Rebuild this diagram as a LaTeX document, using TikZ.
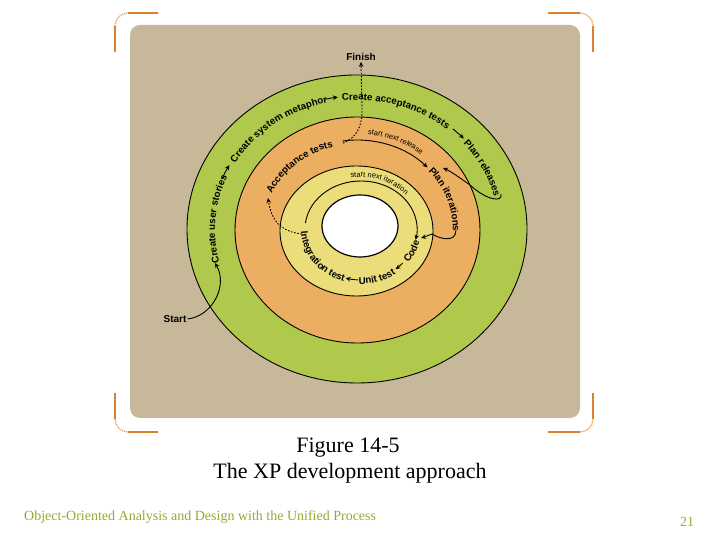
\documentclass[tikz,border=0pt]{standalone}
\usepackage{fontspec}
\setmainfont{Liberation Serif}
\setsansfont{Liberation Sans}
\usetikzlibrary{decorations.text,arrows.meta}
\definecolor{bg}{RGB}{200,184,154}
\definecolor{ringgreen}{RGB}{176,200,76}
\definecolor{ringorange}{RGB}{236,174,96}
\definecolor{ringyellow}{RGB}{235,221,122}
\definecolor{bracket}{RGB}{217,130,43}
\definecolor{footer}{RGB}{150,170,50}
\newcommand\gfont{\sffamily\bfseries\fontsize{9.7}{11}\selectfont}
\newcommand\sfont{\sffamily\fontsize{7.5}{9}\selectfont}
\tikzset{
  ring/.style={draw=black,line width=0.9pt},
  arr/.style={draw=black,line width=0.9pt,-{Stealth[length=5pt,width=4.5pt]}},
  dotline/.style={draw=black,line width=0.9pt,dash pattern=on 1.6pt off 1.6pt,-{Stealth[length=5pt,width=4.5pt]}},
  lbl/.style={font=\sffamily\bfseries\fontsize{10}{11}\selectfont,inner sep=1pt},
  brk/.style={draw=bracket,line width=1.6pt},
  brkarc/.style={draw=bracket!80,line width=1.2pt,dash pattern=on 1pt off 0.8pt},
  arctext/.style={decorate,decoration={text along path,text align=left,text={#1}}}
}
\begin{document}
\begin{tikzpicture}[x=1pt,y=1pt]
\useasboundingbox (0,0) rectangle (720,540);
\fill[white] (0,0) rectangle (720,540);
% background panel
\fill[bg,rounded corners=10pt] (130,122) rectangle (580,515);
% corner brackets
\draw[brk] (158,527) -- (128,527);
\draw[brk] (115,514) -- (115,488);
\draw[brkarc] (115,514) arc[start angle=180,end angle=90,radius=13pt];
\draw[brk] (158,108) -- (128,108);
\draw[brk] (115,121) -- (115,147);
\draw[brkarc] (115,121) arc[start angle=180,end angle=270,radius=13pt];
\draw[brk] (548,527) -- (580,527);
\draw[brk] (593,514) -- (593,488);
\draw[brkarc] (580,527) arc[start angle=90,end angle=0,radius=13pt];
\draw[brk] (548,108) -- (580,108);
\draw[brk] (593,121) -- (593,147);
\draw[brkarc] (580,108) arc[start angle=270,end angle=360,radius=13pt];
% rings
\filldraw[ring,fill=ringgreen] (357,311) ellipse [x radius=170pt,y radius=154pt];
\filldraw[ring,fill=ringorange] (357.5,310) ellipse [x radius=122.5pt,y radius=113pt];
\filldraw[ring,fill=ringyellow] (356.5,309) ellipse [x radius=76.5pt,y radius=65pt];
\filldraw[ring,line width=1.2pt,fill=white] (360,314) ellipse [x radius=38pt,y radius=31pt];
% green ring texts
\path[arctext={|\gfont|Create user stories}] (357,310) ++(194.5:142pt and 130pt) arc[start angle=194.5,end angle=120,x radius=142pt,y radius=130pt];
\path[arctext={|\gfont|Create system metaphor}] (357,310) ++(149:142pt and 130pt) arc[start angle=149,end angle=60,x radius=142pt,y radius=130pt];
\path[arctext={|\gfont|Create acceptance tests}] (357,310) ++(96:142pt and 130pt) arc[start angle=96,end angle=20,x radius=142pt,y radius=130pt];
\path[arctext={|\gfont|Plan releases}] (357,310) ++(41.5:142pt and 130pt) arc[start angle=41.5,end angle=-20,x radius=142pt,y radius=130pt];
\draw[arr] (357,310) ++(157.5:146pt and 134pt) arc[start angle=157.5,end angle=151,x radius=146pt,y radius=134pt];
\draw[arr] (357,310) ++(102.5:146pt and 134pt) arc[start angle=102.5,end angle=97.5,x radius=146pt,y radius=134pt];
\draw[arr] (357,310) ++(49:146pt and 134pt) arc[start angle=49,end angle=43,x radius=146pt,y radius=134pt];
% orange ring texts
\path[arctext={|\gfont|Acceptance tests}] (357,310) ++(155:94pt and 86pt) arc[start angle=155,end angle=80,x radius=94pt,y radius=86pt];
\path[arctext={|\gfont|Plan iterations}] (357,310) ++(42:96pt and 88pt) arc[start angle=42,end angle=-30,x radius=96pt,y radius=88pt];
\path[arctext={|\sfont|start next release}] (357,310) ++(84:104pt and 96pt) arc[start angle=84,end angle=20,x radius=104pt,y radius=96pt];
\draw[arr] (357,310) ++(98.5:98pt and 90pt) arc[start angle=98.5,end angle=44,x radius=98pt,y radius=90pt];
% inner texts
\path[arctext={|\sfont|start next iteration}] (361,311) ++(100:59pt and 52pt) arc[start angle=100,end angle=0,x radius=59pt,y radius=52pt];
\draw[arr] (361,311) ++(173:56pt and 48pt) arc[start angle=173,end angle=-13,x radius=56pt,y radius=48pt];
\path[arctext={|\gfont|Integration test}] (361,311) ++(183:60pt and 55pt) arc[start angle=183,end angle=280,x radius=60pt,y radius=55pt];
\path[arctext={|\gfont|Unit test}] (361,311) ++(268:60pt and 55pt) arc[start angle=268,end angle=340,x radius=60pt,y radius=55pt];
\path[arctext={|\gfont|Code}] (361,311) ++(322:60pt and 55pt) arc[start angle=322,end angle=390,x radius=60pt,y radius=55pt];
\draw[arr] (361,311) ++(318:56pt and 51pt) arc[start angle=318,end angle=308,x radius=56pt,y radius=51pt];
\draw[arr] (361,311) ++(267:56pt and 51pt) arc[start angle=267,end angle=254,x radius=56pt,y radius=51pt];
% labels
\node[lbl] (finish) at (361,483) {Finish};
\node[lbl] (start) at (175,221) {Start};
% connectors
\draw[arr] (start.east) .. controls (213,224) and (228,255) .. (215,277);
\draw[arr] (501,346) .. controls (503,337) and (486,340) .. (470,355) .. controls (460,362) and (452,368) .. (443,372);
\draw[arr] (456,310) .. controls (456,297) and (440,301) .. (432,306) .. controls (428,304) .. (421,302);
\draw[dotline] (343,397) .. controls (356,402) and (362,412) .. (362,430) -- (finish.south);
\draw[dotline] (302,306) .. controls (285,308) and (272,315) .. (268,342);
% caption and footer
\node[font=\fontsize{22}{24}\selectfont] (cap1) at (348,92) {Figure 14-5};
\node[font=\fontsize{22}{24}\selectfont] (cap2) at (350,67) {The XP development approach};
\node[font=\fontsize{14}{16}\selectfont,text=footer,anchor=west,inner sep=0pt] (foot) at (24,23) {Object-Oriented Analysis and Design with the Unified Process};
\node[font=\fontsize{14}{16}\selectfont,text=footer,inner sep=0pt] (page) at (687,18) {21};
\end{tikzpicture}
\end{document}
